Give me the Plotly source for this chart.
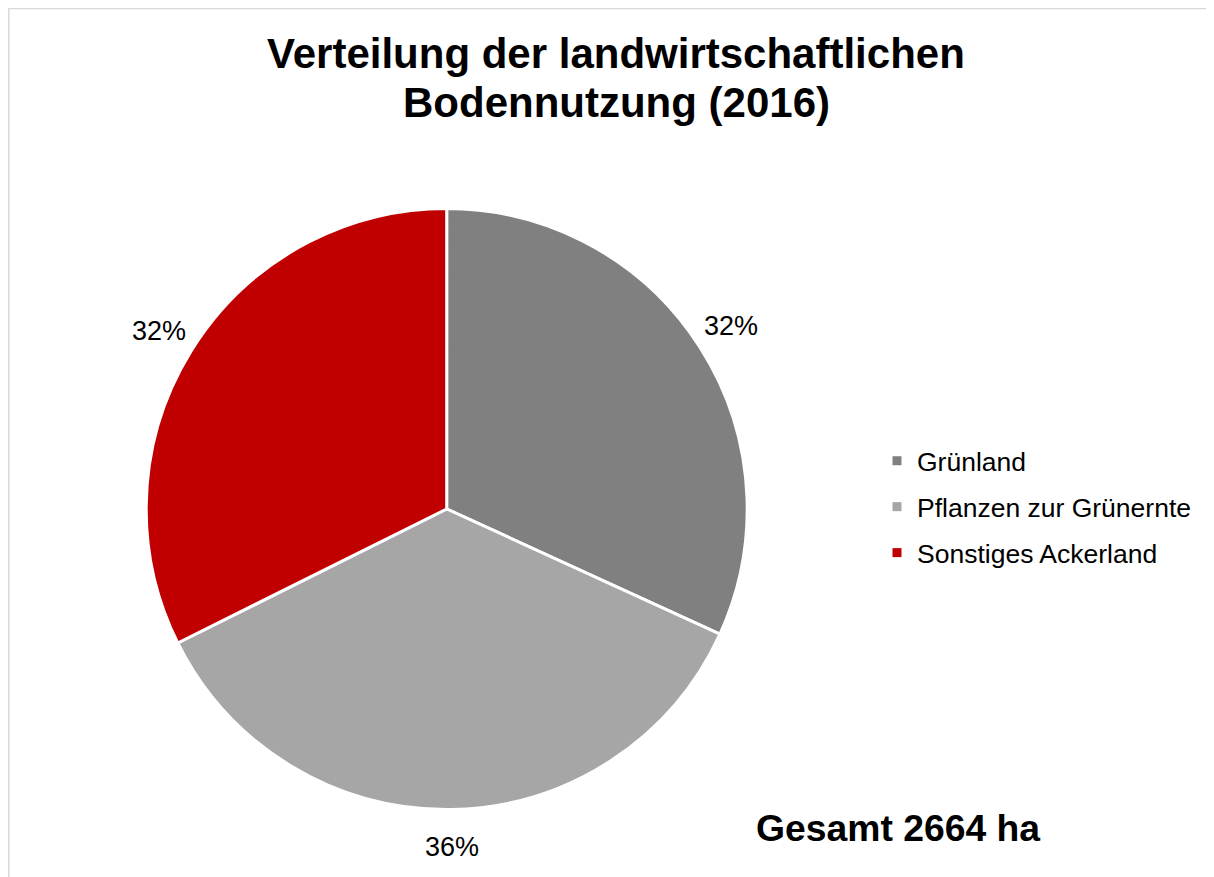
import math
import plotly.graph_objects as go

categories = ["Grünland", "Pflanzen zur Grünernte", "Sonstiges Ackerland"]
values_ha = [848, 954, 862]
colors = ["#808080", "#A6A6A6", "#C00000"]
title_lines = ["Verteilung der landwirtschaftlichen", "Bodennutzung (2016)"]
total_label = "Gesamt {} ha".format(sum(values_ha))

# figure size (page body has an 8px margin)
W, H = 1206, 869
FONT = "Liberation Sans, Arial, sans-serif"

# pie geometry in figure pixels
CX, CY, R = 438.7, 501.0, 300.5
LABEL_R = 1.125 * R

fig = go.Figure()
fig.add_trace(go.Pie(
    labels=categories,
    values=values_ha,
    sort=False,
    direction="clockwise",
    rotation=0,
    marker=dict(colors=colors, line=dict(color="white", width=3)),
    textinfo="none",
    showlegend=False,
    domain=dict(x=[(CX - R) / W, (CX + R) / W], y=[1 - (CY + R) / H, 1 - (CY - R) / H]),
    hoverinfo="label+value+percent",
))

# legend entries (one per category, so the spacing between them can be set)
for cat, col in zip(categories, colors):
    fig.add_trace(go.Scatter(
        x=[None], y=[None], mode="markers", name=cat, legendgroup=cat,
        marker=dict(symbol="square", size=9, color=col),
        hoverinfo="skip",
    ))

annotations = []
# percentage labels at the middle angle of each slice, just outside the pie
total = sum(values_ha)
cum = 0.0
for v in values_ha:
    mid = (cum + v / 2.0) / total * 2 * math.pi
    cum += v
    px = CX + LABEL_R * math.sin(mid)
    py = CY - LABEL_R * math.cos(mid)
    annotations.append(dict(
        text="{:.0%}".format(v / total),
        xref="paper", yref="paper",
        x=px / W, y=1 - py / H, xanchor="center", yanchor="middle",
        showarrow=False,
        font=dict(family=FONT, size=27, color="#000000"),
    ))

# title (two lines)
for line, ypix in zip(title_lines, [45.5, 94.5]):
    annotations.append(dict(
        text="<b>" + line + "</b>",
        xref="paper", yref="paper",
        x=608 / W, xanchor="center",
        y=1 - ypix / H, yanchor="middle",
        showarrow=False,
        font=dict(family=FONT, size=42, color="#000000"),
    ))

annotations.append(dict(
    text="<b>" + total_label + "</b>",
    xref="paper", yref="paper",
    x=746 / W, xanchor="left",
    y=1 - 820 / H, yanchor="middle",
    showarrow=False,
    font=dict(family=FONT, size=37.3, color="#000000"),
))

fig.update_layout(
    width=W, height=H,
    margin=dict(l=0, r=0, t=0, b=0),
    paper_bgcolor="white",
    plot_bgcolor="white",
    font=dict(family=FONT, color="#000000"),
    xaxis=dict(visible=False),
    yaxis=dict(visible=False),
    legend=dict(
        x=869 / W, xanchor="left",
        y=1 - 499 / H, yanchor="middle",
        font=dict(family=FONT, size=26.5, color="#000000"),
        bgcolor="rgba(0,0,0,0)",
        tracegroupgap=8.5,
    ),
    showlegend=True,
    annotations=annotations,
    shapes=[dict(
        type="rect", xref="paper", yref="paper",
        x0=0.75 / W, x1=1.02, y0=-0.02, y1=1 - 0.5 / H,
        line=dict(color="#D9D9D9", width=1.5),
        fillcolor="rgba(0,0,0,0)",
    )],
)

fig.write_html("out.html")
